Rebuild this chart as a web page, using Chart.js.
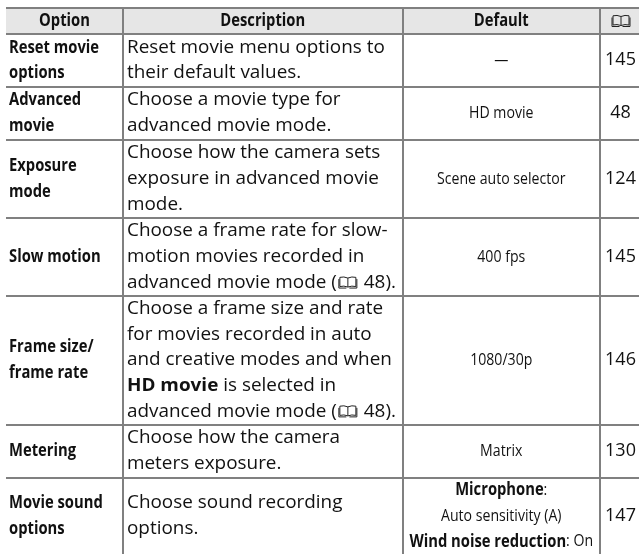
<!DOCTYPE html>
<html>
<head>
<meta charset="utf-8">
<style>
  html, body { margin: 0; background: #fff; }
  canvas { display: block; }
</style>
</head>
<body>
<canvas id="table" width="639" height="554"></canvas>
<script src="https://cdn.jsdelivr.net/npm/chart.js@4/dist/chart.umd.min.js"></script>
<script>
// Column widths and row heights, the row unit is roughly one text line
const colWidths = [117, 279.5, 197.5, 39];
const rowHeights = [1, 2.02, 2.04, 3.02, 2.99, 4.95, 2.05, 2.93];

const BOOK = "\u{1F56E}";
const headers = ["Option", "Description", "Default", BOOK];
const options = [
  ["Reset movie", "options"],
  ["Advanced", "movie"],
  ["Exposure", "mode"],
  ["Slow motion"],
  ["Frame size/", "frame rate"],
  ["Metering"],
  ["Movie sound", "options"],
];
const descriptions = [
  ["Reset movie menu options to", "their default values."],
  ["Choose a movie type for", "advanced movie mode."],
  ["Choose how the camera sets", "exposure in advanced movie", "mode."],
  ["Choose a frame rate for slow-", "motion movies recorded in", `advanced movie mode (${BOOK} 48).`],
  ["Choose a frame size and rate", "for movies recorded in auto", "and creative modes and when", "**HD movie** is selected in", `advanced movie mode (${BOOK} 48).`],
  ["Choose how the camera", "meters exposure."],
  ["Choose sound recording", "options."],
];
const defaults = [
  ["—"],
  ["HD movie"],
  ["Scene auto selector"],
  ["400 fps"],
  ["1080/30p"],
  ["Matrix"],
  ["**Microphone**:", "Auto sensitivity (A)", "**Wind noise reduction**: On"],
];
const pages = ["145", "48", "124", "145", "146", "130", "147"];

const sum = a => a.reduce((s, v) => s + v, 0);
const edges = a => a.reduce((out, v) => out.concat(out[out.length - 1] + v), [0]);
const colEdges = edges(colWidths);
const rowEdges = edges(rowHeights);

const BODY = '"Open Sans"';
const LINE = 0.985;

function drawBook(ctx, cx, cy) {
  const w = 9, h = 5.5;
  ctx.save();
  ctx.strokeStyle = "#222";
  ctx.lineWidth = 1;
  ctx.beginPath();
  ctx.moveTo(cx, cy - h + 1);
  ctx.quadraticCurveTo(cx - 4, cy - h - 0.8, cx - w + 1, cy - h + 0.3);
  ctx.lineTo(cx - w + 1, cy + h - 1.5);
  ctx.quadraticCurveTo(cx - 4, cy + h - 2.6, cx, cy + h - 1);
  ctx.quadraticCurveTo(cx + 4, cy + h - 2.6, cx + w - 1, cy + h - 1.5);
  ctx.lineTo(cx + w - 1, cy - h + 0.3);
  ctx.quadraticCurveTo(cx + 4, cy - h - 0.8, cx, cy - h + 1);
  ctx.lineTo(cx, cy + h - 1);
  ctx.moveTo(cx - w, cy - h + 2);
  ctx.lineTo(cx - w, cy + h);
  ctx.lineTo(cx - 1.5, cy + h);
  ctx.moveTo(cx + 1.5, cy + h);
  ctx.lineTo(cx + w, cy + h);
  ctx.lineTo(cx + w, cy - h + 2);
  ctx.stroke();
  ctx.restore();
}

// splits "**bold** rest" and the book sign into runs
function parseRuns(text) {
  const runs = [];
  text.split("**").forEach((part, i) => {
    part.split(BOOK).forEach((piece, j) => {
      if (j > 0) runs.push({ book: true });
      if (piece) runs.push({ text: piece, bold: i % 2 === 1 });
    });
  });
  return runs;
}

function drawLine(ctx, text, x, y, style) {
  const runs = parseRuns(text);
  const fontFor = r => (r.bold ? style.boldFont : style.font);
  const widthOf = r => {
    if (r.book) return 22;
    ctx.font = fontFor(r);
    return ctx.measureText(r.text).width * (r.bold ? style.boldScale : style.scale);
  };
  const total = sum(runs.map(widthOf));
  let cursor = style.center ? x - total / 2 : x;
  ctx.textBaseline = "middle";
  ctx.textAlign = "left";
  ctx.fillStyle = "#111";
  for (const r of runs) {
    const w = widthOf(r);
    if (r.book) {
      drawBook(ctx, cursor + 11, y);
    } else {
      ctx.save();
      ctx.font = fontFor(r);
      ctx.translate(cursor, y);
      ctx.scale(r.bold ? style.boldScale : style.scale, 1);
      ctx.fillText(r.text, 0, 0);
      ctx.restore();
    }
    cursor += w;
  }
}

const optionStyle = { font: `bold 18px ${BODY}`, boldFont: `bold 18px ${BODY}`, scale: 0.82, boldScale: 0.82 };
const headStyle = { ...optionStyle, center: true };
const descStyle = { font: `18px ${BODY}`, boldFont: `bold 18px ${BODY}`, scale: 1.05, boldScale: 1.05 };
const defStyle = { font: `17px ${BODY}`, boldFont: `bold 18px ${BODY}`, scale: 0.83, boldScale: 0.82, center: true };
const pageStyle = { font: `18px ${BODY}`, boldFont: `18px ${BODY}`, scale: 1, boldScale: 1, center: true };

const cellText = {
  id: "cellText",
  afterDraw(chart) {
    const { ctx, scales: { x, y } } = chart;
    const midX = i => x.getPixelForValue((colEdges[i] + colEdges[i + 1]) / 2);
    const textLeft = i => x.getPixelForValue(colEdges[i]) + (i === 0 ? 3 : 4);

    headers.forEach((h, i) => {
      const cy = y.getPixelForValue(rowHeights[0] / 2);
      if (h === BOOK) drawBook(ctx, midX(i) + 1.5, cy);
      else drawLine(ctx, h, midX(i), cy, headStyle);
    });

    const putLines = (lines, row, at, style) => {
      const mid = (rowEdges[row + 1] + rowEdges[row + 2]) / 2;
      lines.forEach((t, n) => {
        const v = mid + (n - (lines.length - 1) / 2) * LINE;
        drawLine(ctx, t, at, y.getPixelForValue(v), style);
      });
    };
    options.forEach((l, r) => putLines(l, r, textLeft(0), optionStyle));
    descriptions.forEach((l, r) => putLines(l, r, textLeft(1), descStyle));
    defaults.forEach((l, r) => putLines(l, r, midX(2), defStyle));
    pages.forEach((p, r) => putLines([p], r, midX(3) + 1, pageStyle));
  },
};

new Chart(document.getElementById("table"), {
  type: "scatter",
  data: {
    datasets: [{
      data: [{ x: 0, y: rowHeights[0] }, { x: sum(colWidths), y: rowHeights[0] }],
      showLine: true,
      pointRadius: 0,
      borderWidth: 0,
      fill: "end",
      backgroundColor: "#e6e6e6",
    }],
  },
  options: {
    responsive: false,
    animation: false,
    layout: { padding: { left: 6, top: 8 } },
    plugins: { legend: { display: false }, tooltip: { enabled: false } },
    scales: {
      x: {
        min: 0, max: sum(colWidths),
        afterBuildTicks: s => { s.ticks = colEdges.slice(1, -1).map(value => ({ value })); },
        afterFit: s => { s.height = 0; },
        ticks: { display: false },
        border: { display: false },
        grid: { color: "#808080", lineWidth: 2, drawTicks: false, z: 1 },
      },
      y: {
        reverse: true,
        min: 0, max: sum(rowHeights),
        afterBuildTicks: s => { s.ticks = rowEdges.slice(0, -1).map(value => ({ value })); },
        afterFit: s => { s.width = 0; },
        ticks: { display: false },
        border: { display: false },
        grid: { color: "#808080", lineWidth: 2, drawTicks: false, z: 1 },
      },
    },
  },
  plugins: [cellText],
});
</script>
</body>
</html>
